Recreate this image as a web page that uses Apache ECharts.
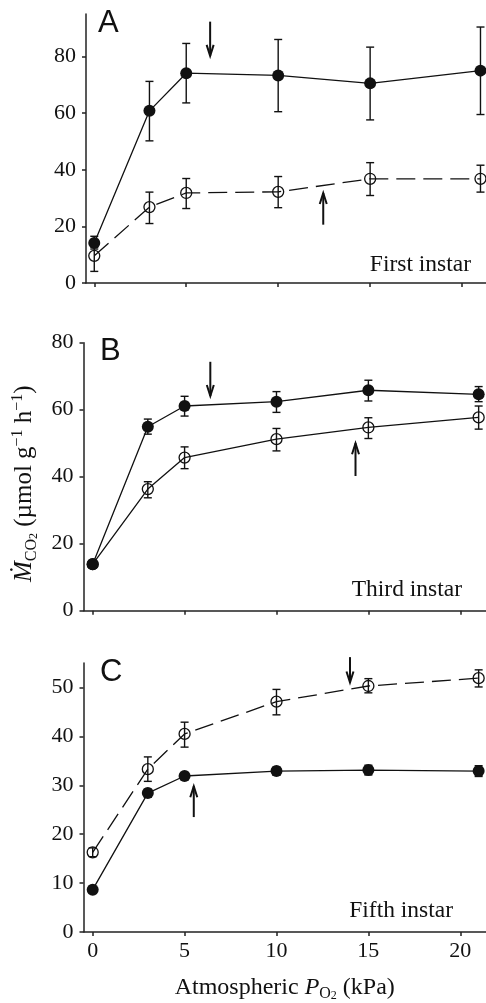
<!DOCTYPE html>
<html>
<head>
<meta charset="utf-8">
<script src="https://cdn.jsdelivr.net/npm/echarts@6/dist/echarts.min.js"></script>
<style>
html,body{margin:0;padding:0;background:#fff;}
#chart{width:486px;height:1003px;}
</style>
</head>
<body>
<div id="chart"></div>
<script>
// ---- data ----
const po2 = [0, 3, 5, 10, 15, 21];
const xTicks = [0, 5, 10, 15, 20];
const yTicksA = [0, 20, 40, 60, 80];
const yTicksB = [0, 20, 40, 60, 80];
const yTicksC = [0, 10, 20, 30, 40, 50];

const filledA    = [14.1, 60.8, 74.1, 73.3, 70.5, 75.0];
const filledA_lo = [12.0, 50.2, 63.6, 60.5, 57.6, 59.5];
const filledA_hi = [16.5, 71.2, 84.6, 86.0, 83.3, 90.4];
const openA      = [9.6, 26.8, 31.8, 32.2, 36.8, 36.8];
const openA_lo   = [4.1, 21.0, 26.3, 26.6, 30.9, 32.1];
const openA_hi   = [13.2, 32.1, 36.9, 37.6, 42.5, 41.6];

const filledB    = [13.9, 54.9, 61.1, 62.4, 65.8, 64.6];
const filledB_lo = [12.9, 52.7, 58.1, 59.2, 62.6, 62.4];
const filledB_hi = [14.9, 57.2, 64.0, 65.4, 68.8, 66.9];
const openB      = [13.9, 36.3, 45.7, 51.2, 54.7, 57.7];
const openB_lo   = [12.9, 33.7, 42.4, 47.7, 51.4, 54.2];
const openB_hi   = [14.9, 38.5, 48.9, 54.4, 57.6, 61.1];

const filledC    = [8.65, 28.4, 31.9, 32.9, 33.1, 32.9];
const filledC_lo = [8.0, 27.6, 31.3, 32.1, 32.1, 31.8];
const filledC_hi = [9.3, 29.2, 32.5, 33.7, 34.1, 34.0];
const openC      = [16.3, 33.3, 40.5, 47.1, 50.3, 51.9];
const openC_lo   = [15.4, 30.8, 37.8, 44.4, 48.9, 50.1];
const openC_hi   = [17.2, 35.8, 42.9, 49.6, 51.8, 53.6];

// arrows: [x, from y, to y (tip)]
const arrowsA = [[6.3, 92.3, 80.2], [12.45, 20.6, 31.8]];
const arrowsB = [[6.4, 74.3, 64.1], [14.3, 40.2, 50.0]];
const arrowsC = [[14.0, 56.2, 51.0], [5.5, 23.5, 29.8]];

const panelLetters = ['A', 'B', 'C'];
const instarLabels = ['First instar', 'Third instar', 'Fifth instar'];

// ---- helpers ----
const INK = '#111';
const SERIF = '"Liberation Serif","Times New Roman",serif';
const SANS = '"Liberation Sans",Arial,sans-serif';

function pairs(xs, ys) { return xs.map((x, i) => [x, ys[i]]); }
function triples(xs, lo, hi) { return xs.map((x, i) => [x, lo[i], hi[i]]); }

function errRender(params, api) {
  const x = api.value(0);
  const p1 = api.coord([x, api.value(1)]);
  const p2 = api.coord([x, api.value(2)]);
  const w = 4;
  const st = { stroke: INK, lineWidth: 1.4 };
  return { type: 'group', children: [
    { type: 'line', shape: { x1: p1[0], y1: p1[1], x2: p2[0], y2: p2[1] }, style: st },
    { type: 'line', shape: { x1: p1[0] - w, y1: p1[1], x2: p1[0] + w, y2: p1[1] }, style: st },
    { type: 'line', shape: { x1: p2[0] - w, y1: p2[1], x2: p2[0] + w, y2: p2[1] }, style: st }
  ]};
}
function arrowRender(params, api) {
  const x = api.value(0);
  const a = api.coord([x, api.value(1)]);
  const b = api.coord([x, api.value(2)]);
  const dir = b[1] > a[1] ? -1 : 1;
  const hl = 11, hw = 3.5;
  const st = { stroke: INK, lineWidth: 2, fill: null };
  return { type: 'group', children: [
    { type: 'line', shape: { x1: a[0], y1: a[1], x2: b[0], y2: b[1] }, style: st },
    { type: 'polyline', shape: { points: [[b[0] - hw, b[1] + dir * hl], [b[0], b[1]], [b[0] + hw, b[1] + dir * hl]] }, style: st }
  ]};
}

const grids = [
  { left: 86, right: 0, top: 14, bottom: 720 },
  { left: 83.5, right: 0, top: 342.7, bottom: 392.3 },
  { left: 83.5, right: 0, top: 663, bottom: 70.5 }
];
const xExt = [[-0.45, 21.3], [-0.5, 21.4], [-0.5, 21.4]];
const yExt = [[0, 95], [0, 80], [0, 55]];
const yTicks = [yTicksA, yTicksB, yTicksC];

const axisLine = { show: true, onZero: false, lineStyle: { color: '#222', width: 1.5 } };

const xAxes = grids.map((g, i) => ({
  type: 'value', gridIndex: i, min: xExt[i][0], max: xExt[i][1],
  splitLine: { show: false },
  axisLine: axisLine,
  axisTick: { show: true, length: 4, lineStyle: { color: '#222', width: 1.5 }, customValues: xTicks },
  axisLabel: { show: i === 2, customValues: xTicks, margin: 8, fontFamily: SERIF, fontSize: 22, color: INK },
  name: i === 2 ? '{n|Atmospheric }{i|P}{sub|O}{sub2|2}{n| (kPa)}' : '',
  nameLocation: 'middle', nameGap: 42,
  nameTextStyle: {
    rich: {
      n: { fontFamily: SERIF, fontSize: 24, color: INK, lineHeight: 28 },
      i: { fontFamily: SERIF, fontStyle: 'italic', fontSize: 24, color: INK, lineHeight: 28 },
      sub: { fontFamily: SERIF, fontSize: 16, color: INK, verticalAlign: 'bottom', lineHeight: 14 },
      sub2: { fontFamily: SERIF, fontSize: 12, color: INK, verticalAlign: 'bottom', lineHeight: 8 }
    }
  }
}));

const yAxes = grids.map((g, i) => ({
  type: 'value', gridIndex: i, min: yExt[i][0], max: yExt[i][1],
  splitLine: { show: false },
  axisLine: axisLine,
  axisTick: { show: true, length: 4, lineStyle: { color: '#222', width: 1.5 }, customValues: yTicks[i] },
  axisLabel: { customValues: yTicks[i], margin: 10, fontFamily: SERIF, fontSize: 22, color: INK },
  name: i === 1 ? '{m|\u1E40}{sub|CO}{sub2|2}{n| (\u00B5mol g}{sup|\u22121}{n| h}{sup|\u22121}{n|)}' : '',
  nameLocation: 'middle', nameRotate: 90, nameGap: 44,
  nameTextStyle: {
    padding: [0, 14, 0, 0],
    rich: {
      m: { fontFamily: SERIF, fontStyle: 'italic', fontSize: 25, color: INK, lineHeight: 30 },
      n: { fontFamily: SERIF, fontSize: 25, color: INK, lineHeight: 30 },
      sub: { fontFamily: SERIF, fontSize: 16, color: INK, verticalAlign: 'bottom', lineHeight: 14 },
      sub2: { fontFamily: SERIF, fontSize: 12, color: INK, verticalAlign: 'bottom', lineHeight: 9 },
      sup: { fontFamily: SERIF, fontSize: 16, color: INK, verticalAlign: 'top', lineHeight: 16 }
    }
  }
}));

const panels = [
  { f: filledA, flo: filledA_lo, fhi: filledA_hi, o: openA, olo: openA_lo, ohi: openA_hi, dashed: true, arrows: arrowsA },
  { f: filledB, flo: filledB_lo, fhi: filledB_hi, o: openB, olo: openB_lo, ohi: openB_hi, dashed: false, arrows: arrowsB },
  { f: filledC, flo: filledC_lo, fhi: filledC_hi, o: openC, olo: openC_lo, ohi: openC_hi, dashed: true, arrows: arrowsC }
];

const series = [];
panels.forEach((p, i) => {
  series.push({ type: 'custom', xAxisIndex: i, yAxisIndex: i, renderItem: errRender, data: triples(po2, p.olo, p.ohi), z: 3, silent: true });
  series.push({ type: 'custom', xAxisIndex: i, yAxisIndex: i, renderItem: errRender, data: triples(po2, p.flo, p.fhi), z: 3, silent: true });
  series.push({ type: 'line', xAxisIndex: i, yAxisIndex: i, data: pairs(po2, p.o), symbol: 'circle', symbolSize: 11,
    lineStyle: { color: INK, width: 1.3, type: p.dashed ? [19, 8] : 'solid' },
    itemStyle: { color: 'rgba(0,0,0,0)', borderColor: INK, borderWidth: 1.3 }, z: 4 });
  series.push({ type: 'line', xAxisIndex: i, yAxisIndex: i, data: pairs(po2, p.f), symbol: 'circle', symbolSize: 12,
    lineStyle: { color: INK, width: 1.3 },
    itemStyle: { color: INK, borderWidth: 0 }, z: 5 });
  series.push({ type: 'custom', xAxisIndex: i, yAxisIndex: i, renderItem: arrowRender, data: p.arrows, z: 6, silent: true });
});

const letterPos = [[98, 8], [100, 336], [100, 657]];
const labelPos = [[471, 277], [462, 602], [453, 923]];
const graphic = [];
panelLetters.forEach((t, i) => {
  graphic.push({ type: 'text', left: letterPos[i][0], top: letterPos[i][1],
    style: { text: t, fontFamily: SANS, fontSize: 31, fill: INK } });
  graphic.push({ type: 'text', x: labelPos[i][0], y: labelPos[i][1],
    style: { text: instarLabels[i], fontFamily: SERIF, fontSize: 23.5, fill: INK, align: 'right', verticalAlign: 'bottom' } });
});

const chart = echarts.init(document.getElementById('chart'), null, { renderer: 'canvas' });
chart.setOption({
  animation: false,
  backgroundColor: '#fff',
  grid: grids,
  xAxis: xAxes,
  yAxis: yAxes,
  series: series,
  graphic: graphic
});
</script>
</body>
</html>
